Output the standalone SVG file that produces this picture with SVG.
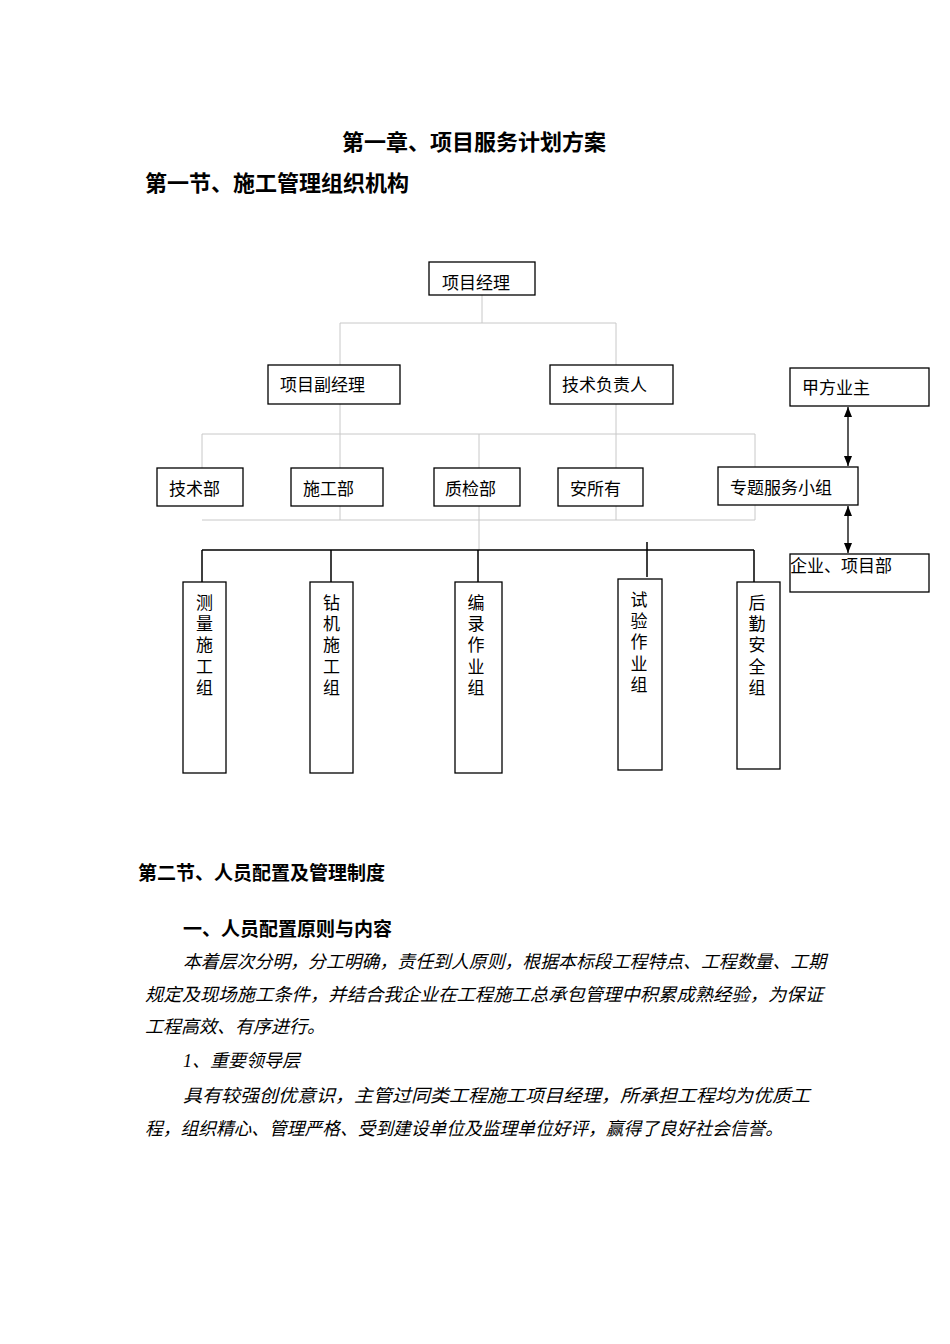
<svg xmlns="http://www.w3.org/2000/svg" width="950" height="1344" viewBox="0 0 950 1344">
<style>
text{font-family:"Liberation Sans","Noto Sans CJK SC",sans-serif;fill:#000}
.b{fill:#fff;stroke:#000;stroke-width:1.3}
.t{font-size:17px}
.v{font-size:17px;text-anchor:middle}
.g{stroke:#c8c8c8;stroke-width:1;fill:none}
.k{stroke:#000;stroke-width:1.5;fill:none}
.h{font-weight:bold}
.p{font-size:18px;font-style:italic;font-family:"Liberation Serif","Noto Sans CJK SC",serif}
</style>
<defs><marker id="a" viewBox="0 0 10 10" refX="10" refY="5" markerWidth="8" markerHeight="8" orient="auto-start-reverse"><path d="M0,1L10,5L0,9z" fill="#000"/></marker></defs>
<rect width="950" height="1344" fill="#fff"/>
<text x="474" y="150" class="h" font-size="22" text-anchor="middle">第一章、项目服务计划方案</text>
<text x="145" y="191" class="h" font-size="22">第一节、施工管理组织机构</text>
<g id="connectors">
<path class="g" d="M482,295V323M340,323H616M340,323V365M616,323V365M340,404V520M616,404V520M202,434H755M202,434V468M479,434V550M755,434V467M202,520H755M755,505V520"/>
<path class="k" d="M202,550H754M202,550V582M331,550V582M478,550V582M754,550V582M647,542V577"/>
<line x1="848" y1="407" x2="848" y2="466" stroke="#000" stroke-width="1.3" marker-start="url(#a)" marker-end="url(#a)"/>
<line x1="848" y1="506" x2="848" y2="553" stroke="#000" stroke-width="1.3" marker-start="url(#a)" marker-end="url(#a)"/>
</g>
<g id="n1"><rect class="b" x="429" y="262" width="106" height="33"/><text class="t" x="442" y="289">项目经理</text></g>
<g id="n2"><rect class="b" x="268" y="365" width="132" height="39"/><text class="t" x="280" y="391">项目副经理</text></g>
<g id="n3"><rect class="b" x="550" y="365" width="123" height="39"/><text class="t" x="562" y="391">技术负责人</text></g>
<g id="n4"><rect class="b" x="790" y="368" width="139" height="38"/><text class="t" x="802" y="394">甲方业主</text></g>
<g id="n5"><rect class="b" x="157" y="468" width="86" height="38"/><text class="t" x="169" y="495">技术部</text></g>
<g id="n6"><rect class="b" x="291" y="468" width="92" height="38"/><text class="t" x="303" y="495">施工部</text></g>
<g id="n7"><rect class="b" x="434" y="468" width="86" height="38"/><text class="t" x="445" y="495">质检部</text></g>
<g id="n8"><rect class="b" x="558" y="468" width="85" height="38"/><text class="t" x="570" y="495">安所有</text></g>
<g id="n9"><rect class="b" x="718" y="467" width="140" height="38"/><text class="t" x="730" y="494">专题服务小组</text></g>
<g id="n10"><rect class="b" x="790" y="554" width="139" height="38"/><text class="t" x="790" y="572">企业、项目部</text></g>
<g id="n11"><rect class="b" x="183" y="582" width="43" height="191"/><text class="v" x="204.5" y="609">测</text><text class="v" x="204.5" y="630">量</text><text class="v" x="204.5" y="651">施</text><text class="v" x="204.5" y="673">工</text><text class="v" x="204.5" y="694">组</text></g>
<g id="n12"><rect class="b" x="310" y="582" width="43" height="191"/><text class="v" x="331.5" y="609">钻</text><text class="v" x="331.5" y="630">机</text><text class="v" x="331.5" y="651">施</text><text class="v" x="331.5" y="673">工</text><text class="v" x="331.5" y="694">组</text></g>
<g id="n13"><rect class="b" x="455" y="582" width="47" height="191"/><text class="v" x="476" y="609">编</text><text class="v" x="476" y="630">录</text><text class="v" x="476" y="651">作</text><text class="v" x="476" y="673">业</text><text class="v" x="476" y="694">组</text></g>
<g id="n14"><rect class="b" x="618" y="579" width="44" height="191"/><text class="v" x="639" y="606">试</text><text class="v" x="639" y="627">验</text><text class="v" x="639" y="648">作</text><text class="v" x="639" y="670">业</text><text class="v" x="639" y="691">组</text></g>
<g id="n15"><rect class="b" x="737" y="582" width="43" height="187"/><text class="v" x="757" y="609">后</text><text class="v" x="757" y="630">勤</text><text class="v" x="757" y="651">安</text><text class="v" x="757" y="673">全</text><text class="v" x="757" y="694">组</text></g>
<text x="138" y="880" class="h" font-size="19">第二节、人员配置及管理制度</text>
<text x="183" y="936" class="h" font-size="19">一、人员配置原则与内容</text>
<text class="p" x="183" y="968" textLength="643" lengthAdjust="spacingAndGlyphs">本着层次分明，分工明确，责任到人原则，根据本标段工程特点、工程数量、工期</text>
<text class="p" x="145" y="1001" textLength="678" lengthAdjust="spacingAndGlyphs">规定及现场施工条件，并结合我企业在工程施工总承包管理中积累成熟经验，为保证</text>
<text class="p" x="145" y="1033">工程高效、有序进行。</text>
<text class="p" x="183" y="1067">1、重要领导层</text>
<text class="p" x="183" y="1102" textLength="627" lengthAdjust="spacingAndGlyphs">具有较强创优意识，主管过同类工程施工项目经理，所承担工程均为优质工</text>
<text class="p" x="145" y="1135" textLength="638" lengthAdjust="spacingAndGlyphs">程，组织精心、管理严格、受到建设单位及监理单位好评，赢得了良好社会信誉。</text>
</svg>
